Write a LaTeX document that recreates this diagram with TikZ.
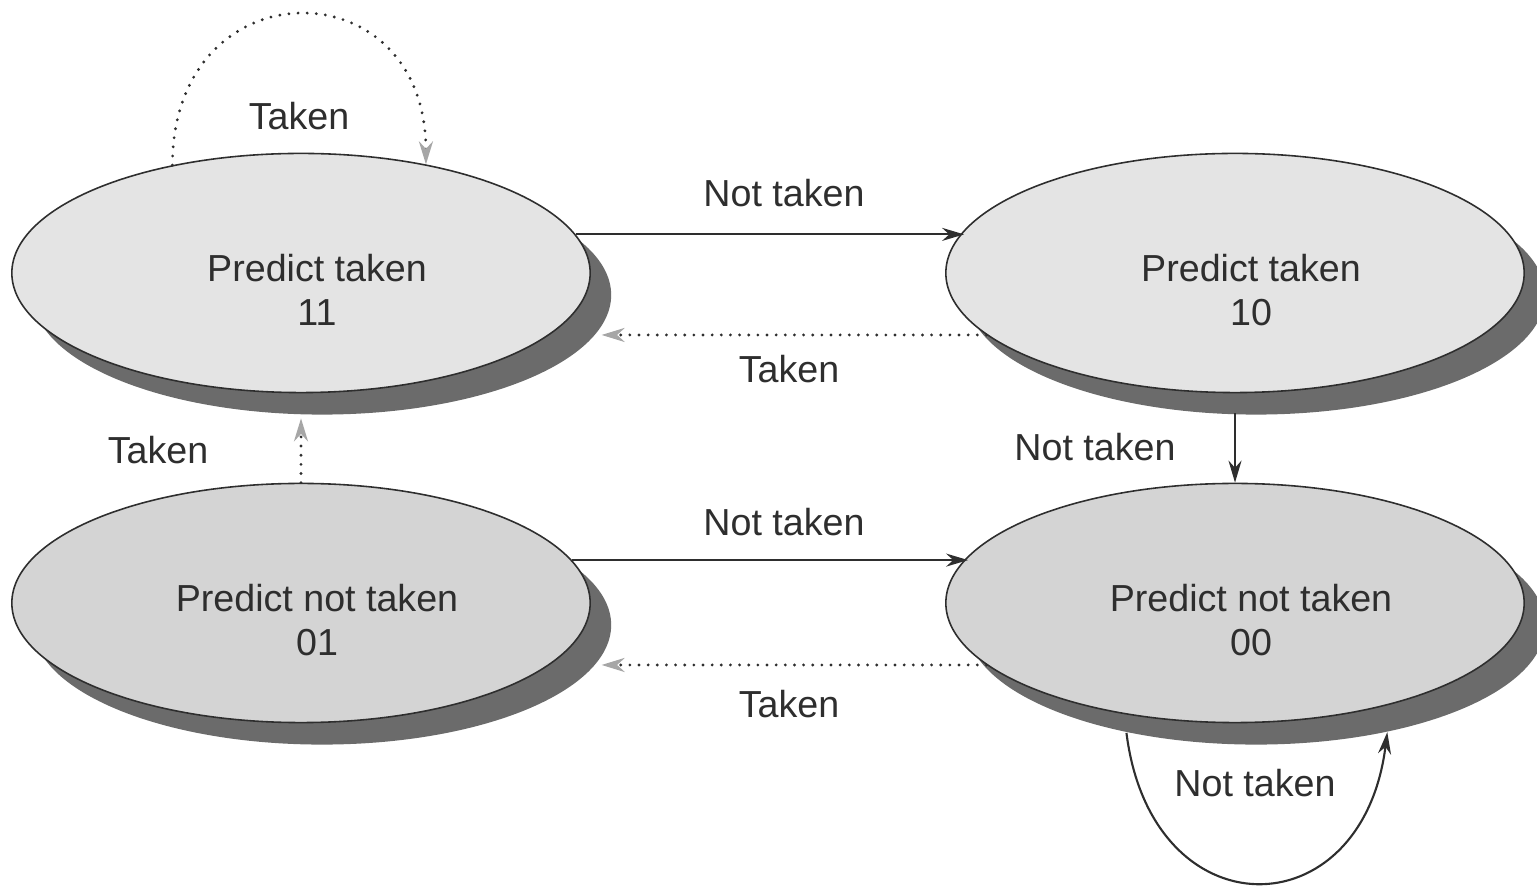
\documentclass[tikz,border=0pt]{standalone}
\usepackage{fontspec}
\setmainfont{Liberation Sans}
\usepackage{tikz}
\usetikzlibrary{shapes.geometric,shadows,arrows.meta}
\definecolor{faceup}{HTML}{E4E4E4}
\definecolor{facedown}{HTML}{D4D4D4}
\definecolor{shadowgray}{HTML}{6B6B6B}
\definecolor{ink}{HTML}{2E2E2E}
\definecolor{tipgray}{HTML}{A6A6A6}
\newcommand*{\EdgeLabels}[1]{% #1 = list of x/y/name/text
\foreach \x/\y/\n/\t in {#1} {
\node [text=ink, inner sep=0pt]
(\n) at (\x,\y) {\t};
}%
}

\begin{document}
\begin{tikzpicture}[x=0.01cm,y=0.01cm,
    font=\fontsize{10.7}{12.5}\selectfont,
    state/.style={ellipse, draw=ink, line width=0.45pt, minimum width=5.78cm,
        minimum height=2.39cm, inner sep=0pt, text=ink,
        label={[xshift=0.16cm, yshift=-0.17cm, align=center, text=ink]center:#1},
        drop shadow={shadow xshift=0.21cm, shadow yshift=-0.22cm, fill=shadowgray, opacity=1}},
    go/.style={draw=ink, line width=0.6pt, -{Stealth[length=0.22cm,width=0.13cm]}},
    wait/.style={draw=ink, line width=0.9pt, line cap=round, dash pattern=on 0pt off 2.6pt,
        -{Stealth[length=0.23cm,width=0.14cm,color=tipgray]}}]

            \useasboundingbox (0,0) rectangle (1537,885);
            \node[state={Predict taken\\11}, fill=faceup] (s11) at (301,612) {};
            \node[state={Predict taken\\10}, fill=faceup] (s10) at (1235,612) {};
            \node[state={Predict not taken\\01}, fill=facedown] (s01) at (301,282) {};
            \node[state={Predict not taken\\00}, fill=facedown] (s00) at (1235,282) {};

            \draw[go] (s11.8.2) -- (s11.8.2 -| s10.171.8);
            \draw[wait] (s10.194) -- ([xshift=0.52cm]s11.-14 |- s10.194);
            \draw[go] (s01.9.5) -- (s01.9.5 -| s00.170.5);
            \draw[wait] (s00.194.6) -- ([xshift=0.52cm]s01.-14.6 |- s00.194.6);
            \draw[wait] (s01.north) -- ([yshift=-0.25cm]s11.south);
            \draw[go] ([yshift=-0.2cm]s10.south) -- (s00.north);
            \draw[wait] (s11.140.3) .. controls +(0,200) and +(0,200) .. (s11.41);
            \draw[go] ([shift={(20,-22)}]s00.220.6) .. controls +(25,-200) and +(-25,-200) .. ([shift={(20,-22)}]s00.-39.2);

            \EdgeLabels{299/769/lSelfT/Taken, 784/692/lUpN/Not taken, 789/516/lUpT/Taken,
                158/435/lLeftT/Taken, 1095/438/lRightN/Not taken, 784/363/lLowN/Not taken,
                789/181/lLowT/Taken, 1255/102/lSelfN/Not taken}
        \end{tikzpicture}
\end{document}
